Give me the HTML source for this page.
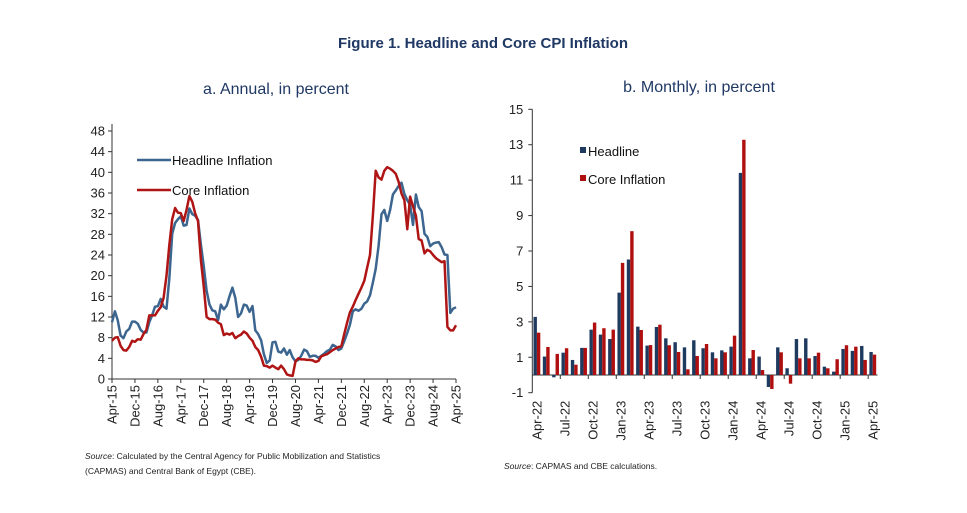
<!DOCTYPE html>
<html><head><meta charset="utf-8"><style>
body{margin:0;background:#fff;width:967px;height:508px;overflow:hidden;font-family:"Liberation Sans",sans-serif}
svg text{font-family:"Liberation Sans",sans-serif}
</style></head><body>
<svg id="c" width="967" height="508" xmlns="http://www.w3.org/2000/svg">
<text x="483" y="48" text-anchor="middle" font-size="15" font-weight="bold" fill="#1f3864">Figure 1. Headline and Core CPI Inflation</text>
<text x="276" y="94" text-anchor="middle" font-size="16" fill="#1f3864">a. Annual, in percent</text>
<text x="699" y="92" text-anchor="middle" font-size="16" fill="#1f3864">b. Monthly, in percent</text>
<g id="L"></g>
<g id="R"></g>
<text x="85" y="459" font-size="8.5" fill="#222"><tspan font-style="italic">Source</tspan>: Calculated by the Central Agency for Public Mobilization and Statistics</text>
<text x="85" y="474" font-size="8.5" fill="#222">(CAPMAS) and Central Bank of Egypt (CBE).</text>
<text x="504" y="469" font-size="8.5" fill="#222"><tspan font-style="italic">Source</tspan>: CAPMAS and CBE calculations.</text>
</svg>
<script>
const annualTicks=[0,4,8,12,16,20,24,28,32,36,40,44,48];
const annualLabels=["Apr-15","Dec-15","Aug-16","Apr-17","Dec-17","Aug-18","Apr-19","Dec-19","Aug-20","Apr-21","Dec-21","Aug-22","Apr-23","Dec-23","Aug-24","Apr-25"];
const headlineAnnual=[11,13.1,11.4,8.4,7.9,9.2,9.7,11.1,11.1,10.7,9.5,9.0,9.0,11.0,12.3,14.0,14.1,15.5,14.0,13.6,19.4,28.1,30.2,30.9,31.5,29.7,29.8,33.0,31.9,31.6,30.8,26.0,21.9,17.1,14.4,13.3,13.1,11.4,14.4,13.5,14.2,16.0,17.7,15.7,12.0,12.7,14.4,14.2,13.0,14.1,9.4,8.7,7.5,4.8,3.1,3.6,7.1,7.2,5.3,5.1,5.9,4.7,5.6,4.2,3.4,3.7,4.5,5.7,5.4,4.3,4.5,4.5,4.1,4.5,4.9,5.4,5.7,6.6,6.3,5.6,5.9,7.3,8.8,10.5,13.1,13.5,13.2,13.6,14.6,15.0,16.2,18.7,21.3,25.8,31.9,32.7,30.6,32.7,35.7,36.5,37.4,38.0,35.8,34.6,33.7,29.8,35.7,33.3,32.5,28.1,27.5,25.7,26.2,26.4,26.5,25.5,24.1,24.0,12.8,13.6,13.9];
const coreAnnual=[7.4,8.0,8.1,6.4,5.6,5.5,6.2,7.4,7.2,7.7,7.6,8.7,9.5,12.3,12.3,12.3,13.2,13.9,15.7,20.0,25.9,30.9,33.1,32.2,32.1,30.6,32.7,35.4,34.3,32.1,30.6,23.0,18.0,12.0,11.6,11.6,11.5,10.9,10.6,8.5,8.8,8.6,8.9,7.9,8.3,8.6,9.2,8.8,8.0,7.4,6.2,5.6,4.3,2.6,2.5,2.2,2.6,2.2,1.9,2.6,1.9,0.9,0.7,0.6,3.4,4.0,3.8,3.8,3.7,3.7,3.6,3.3,3.5,4.4,4.6,4.8,5.2,5.6,5.9,6.2,6.3,8.7,10.9,12.9,14.0,15.3,16.5,17.7,19.0,21.5,24.0,31.7,40.3,39.0,38.6,40.3,41.0,40.7,40.3,39.7,38.1,35.9,34.6,29.0,35.3,33.4,31.6,27.1,26.8,24.3,25.0,24.7,24.0,23.4,23.0,22.6,22.8,10.1,9.4,9.4,10.4];
const monthlyTicks=[-1,1,3,5,7,9,11,13,15];
const monthlyLabels=["Apr-22","Jul-22","Oct-22","Jan-23","Apr-23","Jul-23","Oct-23","Jan-24","Apr-24","Jul-24","Oct-24","Jan-25","Apr-25"];
const headlineMonthly=[3.28,1.04,-0.13,1.26,0.85,1.53,2.56,2.28,2.03,4.65,6.52,2.73,1.66,2.71,2.07,1.85,1.56,1.96,1.51,1.28,1.39,1.60,11.41,0.94,1.04,-0.68,1.56,0.38,2.03,2.07,1.07,0.47,0.19,1.47,1.36,1.64,1.30];
const coreMonthly=[2.39,1.58,1.19,1.51,0.58,1.53,2.96,2.64,2.56,6.33,8.12,2.54,1.69,2.84,1.68,1.30,0.32,1.07,1.75,0.94,1.28,2.22,13.28,1.41,0.28,-0.79,1.28,-0.49,0.94,0.94,1.26,0.38,0.89,1.68,1.60,0.85,1.15];

const NS="http://www.w3.org/2000/svg";
function mk(p,t,a){const e=document.createElementNS(NS,t);for(const k in a)e.setAttribute(k,a[k]);p.appendChild(e);return e;}
const BLUE="#3c6690",RED="#b01515",DB="#1f3a5f",DR="#b00f0f";
// Annual
const L=document.getElementById('L');
const lx0=112,lx1=456,ly0=379,ly48=131;
const ax=i=>lx0+(lx1-lx0)*i/(headlineAnnual.length-1);
const ay=v=>ly0-(ly0-ly48)*v/48;
let e=mk(L,'line',{x1:lx0,y1:124,x2:lx0,y2:ly0,stroke:'#333','stroke-width':1});

e=mk(L,'line',{x1:lx0,y1:ly0,x2:lx1,y2:ly0,stroke:'#333','stroke-width':1});

annualTicks.forEach(v=>{
  mk(L,'line',{x1:lx0-4,y1:ay(v),x2:lx0,y2:ay(v),stroke:'#333'});
  const t=mk(L,'text',{x:lx0-7,y:ay(v)+4.5,'text-anchor':'end','font-size':13,fill:'#222'});t.textContent=v;
  
});
annualLabels.forEach((s,k)=>{
  const x=ax(k*8);
  mk(L,'line',{x1:x,y1:ly0,x2:x,y2:ly0+4,stroke:'#333'});
  const t=mk(L,'text',{x:0,y:0,'text-anchor':'end','font-size':13,fill:'#222',transform:`translate(${x+4.5},${ly0+6}) rotate(-90)`});t.textContent=s;
  
});
function path(arr,c,n){const p=mk(L,'path',{d:arr.map((v,i)=>(i?'L':'M')+ax(i).toFixed(1)+','+ay(v).toFixed(1)).join(''),fill:'none',stroke:c,'stroke-width':2.5,'stroke-linejoin':'round'});
}
path(headlineAnnual,BLUE,'headline-line');
path(coreAnnual,RED,'core-line');
e=mk(L,'line',{x1:137,y1:160,x2:171,y2:160,stroke:BLUE,'stroke-width':2.5});

e=mk(L,'text',{x:172,y:165,'font-size':13,fill:'#111'});e.textContent='Headline Inflation';

e=mk(L,'line',{x1:137,y1:190,x2:171,y2:190,stroke:RED,'stroke-width':2.5});

e=mk(L,'text',{x:172,y:195,'font-size':13,fill:'#111'});e.textContent='Core Inflation';

// Monthly
const R=document.getElementById('R');
const rx0=532.3,cw=9.33,ry15=109.3,rym1=392.7;
const ry=v=>rym1-(rym1-ry15)*(v+1)/16;
const rxEnd=rx0+cw*headlineMonthly.length;
e=mk(R,'line',{x1:rx0,y1:ry15,x2:rx0,y2:rym1,stroke:'#333'});

e=mk(R,'line',{x1:rx0,y1:ry(0),x2:rxEnd,y2:ry(0),stroke:'#333'});

monthlyTicks.forEach(v=>{
  mk(R,'line',{x1:rx0-4,y1:ry(v),x2:rx0,y2:ry(v),stroke:'#333'});
  const t=mk(R,'text',{x:rx0-9,y:ry(v)+4.5,'text-anchor':'end','font-size':13,fill:'#222'});t.textContent=v;
  
});
for(let k=1;k*3<headlineMonthly.length;k++){const x=rx0+cw*3*k;mk(R,'line',{x1:x,y1:ry(0),x2:x,y2:ry(0)+4,stroke:'#333'});}
monthlyLabels.forEach((s,k)=>{
  const x=rx0+cw*(k*3+0.5);
  const t=mk(R,'text',{x:0,y:0,'text-anchor':'end','font-size':13,fill:'#222',transform:`translate(${x+4.5},${ry(-1)+8}) rotate(-90)`});t.textContent=s;
  
});
function bars(arr,c,off,n){arr.forEach((v,i)=>{const y0=ry(0),y1=ry(v);
 const b=mk(R,'rect',{x:rx0+cw*i+off,y:Math.min(y0,y1),width:3.4,height:Math.max(0.5,Math.abs(y1-y0)),fill:c});
 });}
bars(headlineMonthly,DB,1.2,'headline-bar');
bars(coreMonthly,DR,4.6,'core-bar');
e=mk(R,'rect',{x:580,y:147,width:6,height:6,fill:DB});

e=mk(R,'text',{x:588,y:156,'font-size':13,fill:'#111'});e.textContent='Headline';

e=mk(R,'rect',{x:580,y:175,width:6,height:6,fill:DR});

e=mk(R,'text',{x:588,y:184,'font-size':13,fill:'#111'});e.textContent='Core Inflation';

</script>
</body></html>
